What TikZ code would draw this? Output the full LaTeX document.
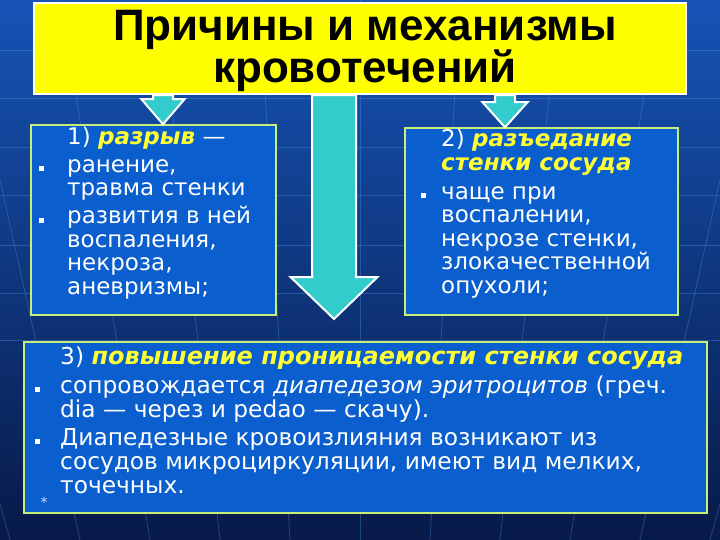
\documentclass[tikz,border=0pt]{standalone}
\usepackage{fontspec}
\usepackage{xcolor}
\usetikzlibrary{positioning}
\usetikzlibrary{calc}
\setmainfont{DejaVu Sans}
\newfontfamily\titlefont{Liberation Sans}

\definecolor{bgtop}{RGB}{22,84,182}
\definecolor{bgmid}{RGB}{12,62,150}
\definecolor{bgbot}{RGB}{8,26,72}
\definecolor{gridline}{RGB}{70,140,220}
\definecolor{boxblue}{RGB}{10,94,206}
\definecolor{boxrim}{RGB}{200,240,120}
\definecolor{headyellow}{RGB}{255,255,51}
\definecolor{arrowcyan}{RGB}{51,204,204}
\definecolor{titleyellow}{RGB}{255,255,0}

\newcommand{\heading}[1]{\textcolor{headyellow}{\bfseries\itshape #1}}
\newcommand{\blt}[1]{\llap{\rule[1pt]{5pt}{5pt}\hspace{#1}}}
% block arrow: top point, tip, half stem, half head, head length
\newcommand{\blockarrow}[5]{%
  \filldraw[blockarrow] ($(#1)+(-#3,0)$) -- ($(#2)+(-#3,-#5)$) -- ($(#2)+(-#4,-#5)$) -- (#2)
    -- ($(#2)+(#4,-#5)$) -- ($(#2)+(#3,-#5)$) -- ($(#1)+(#3,0)$) -- cycle;
}

\tikzset{
  causebox/.style={draw=boxrim, line width=1.5pt, fill=boxblue, inner sep=0pt},
  boxtext/.style={text=white, align=left, inner sep=0pt, font=\fontsize{23}{23.5}\selectfont},
  blockarrow/.style={fill=arrowcyan, draw=white, line width=2pt, line join=miter},
}

\begin{document}
\begin{tikzpicture}[x=1pt, y=-1pt]
  \useasboundingbox (0,0) rectangle (720,540);
  % background with grid
  \shade[top color=bgtop, middle color=bgmid, bottom color=bgbot] (0,0) rectangle (720,540);
  \foreach \gy in {50,98,147,195,245,293,340}
    \draw[gridline, opacity=.4, line width=.8pt] (0,\gy) -- (720,\gy);
  \foreach \k in {-7,...,7}
    \draw[gridline, opacity=.4, line width=.8pt] (360+\k*100,0) -- (360+\k*70,540);

  % title
  \node[draw=white, line width=2.5pt, fill=titleyellow, minimum width=652pt, minimum height=91pt, inner sep=0pt] (title) at (360,48.5) {};
  \node[font=\titlefont\bfseries\fontsize{44}{35}\selectfont, align=center, anchor=base, inner sep=0pt] (titletext) at (365,83) {Причины и механизмы\\кровотечений};

  % boxes
  \node[causebox, minimum width=245pt, minimum height=190pt] (rupture) at (153.5,220) {};
  \node[causebox, minimum width=273pt, minimum height=187pt] (erosion) at (541.5,221.5) {};
  \node[causebox, minimum width=683pt, minimum height=171pt] (permeability) at (365.5,427.5) {};

  % arrows
  \coordinate (lefttip) at (163,0);
  \coordinate (midtip) at (334,319);
  \coordinate (righttip) at (505,0);
  \blockarrow{title.south -| lefttip}{rupture.north -| lefttip}{10}{21.5}{25}
  \blockarrow{title.south -| righttip}{erosion.north -| righttip}{10}{22.5}{25}
  \blockarrow{title.south -| midtip}{midtip}{22}{43.5}{42}

  % texts (anchored at the last baseline)
  \node[boxtext, anchor=base west] (rupturetext) at (67,294) {1) \heading{разрыв} —\\[4.5pt]
    \blt{23pt}ранение,\\ травма стенки\\[4.5pt]
    \blt{23pt}развития в ней\\ воспаления,\\ некроза,\\ аневризмы;};
  \node[boxtext, anchor=base west] (erosiontext) at (441,293) {2) \heading{разъедание}\\[1pt]
    \heading{стенки сосуда}\\[5pt]
    \blt{15pt}чаще при\\ воспалении,\\ некрозе стенки,\\ злокачественной\\ опухоли;};
  \node[boxtext, anchor=base west, font=\fontsize{23.3}{24}\selectfont] (permeabilitytext) at (60,493) {3) \heading{\fontsize{24}{24}\selectfont повышение проницаемости стенки сосуда}\\[5pt]
    \blt{20pt}сопровождается \textit{диапедезом эритроцитов} (греч.\\ dia — через и pedao — скачу).\\[4pt]
    \blt{20pt}Диапедезные кровоизлияния возникают из\\ сосудов микроциркуляции, имеют вид мелких,\\ точечных.};
  \node[text=white!80!boxblue, font=\fontsize{14}{14}\selectfont, inner sep=0pt] (slidemark) at (44,502) {*};
\end{tikzpicture}
\end{document}
